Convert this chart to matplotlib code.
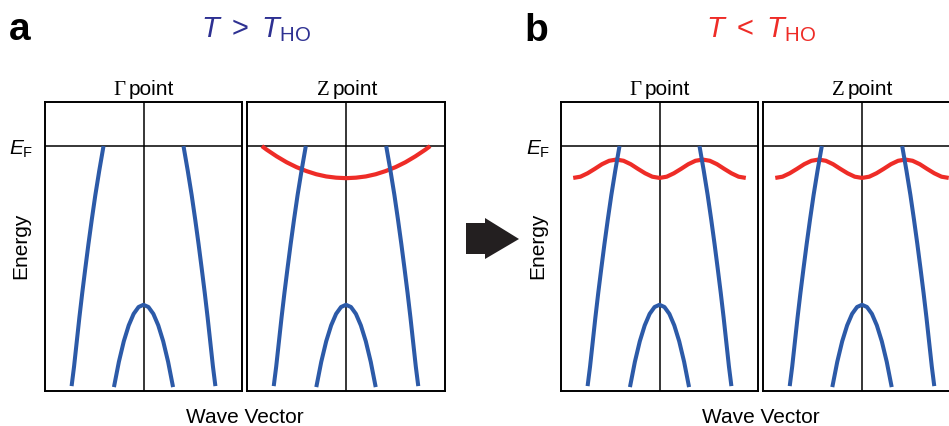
import matplotlib
matplotlib.use("Agg")
import matplotlib.pyplot as plt
from matplotlib.patches import Polygon

plt.rcParams['font.family'] = ['Liberation Sans', 'DejaVu Sans']
plt.rcParams['mathtext.fontset'] = 'custom'
plt.rcParams['mathtext.rm'] = 'Liberation Sans'
plt.rcParams['mathtext.it'] = 'Liberation Sans:italic'
plt.rcParams['mathtext.bf'] = 'Liberation Sans:bold'

W, H = 949, 426

# outer hole bands (right branch, left branch is mirrored), E_F = 0
band_E = [0.0, -0.1, -0.2, -0.3, -0.4, -0.5, -0.6, -0.7, -0.8, -0.9, -0.98]
band_k = [0.406, 0.449, 0.489, 0.525, 0.559, 0.591, 0.622, 0.651, 0.678, 0.705, 0.73]

# inner band with top below E_F
inner_k = [-0.30, -0.25, -0.20, -0.15, -0.10, -0.05, 0.0, 0.05, 0.10, 0.15, 0.20, 0.25, 0.30]
inner_E = [-0.984, -0.881, -0.797, -0.732, -0.685, -0.657, -0.648,
           -0.657, -0.685, -0.732, -0.797, -0.881, -0.984]

# Z point band above the transition
zband_k = [-0.85, -0.8, -0.7, -0.6, -0.5, -0.4, -0.3, -0.2, -0.1, 0.0,
           0.1, 0.2, 0.3, 0.4, 0.5, 0.6, 0.7, 0.8, 0.85]
zband_E = [0.0, -0.015, -0.042, -0.066, -0.086, -0.102, -0.115, -0.124, -0.129, -0.131,
           -0.129, -0.124, -0.115, -0.102, -0.086, -0.066, -0.042, -0.015, 0.0]

# folded band below the transition
wave_k = [-0.876, -0.803, -0.730, -0.657, -0.584, -0.511, -0.438, -0.365, -0.292, -0.219,
          -0.146, -0.073, 0.0, 0.073, 0.146, 0.219, 0.292, 0.365, 0.438, 0.511,
          0.584, 0.657, 0.730, 0.803, 0.876]
wave_E = [-0.130, -0.125, -0.111, -0.093, -0.074, -0.060, -0.055, -0.060, -0.074, -0.093,
          -0.111, -0.125, -0.130, -0.125, -0.111, -0.093, -0.074, -0.060, -0.055, -0.060,
          -0.074, -0.093, -0.111, -0.125, -0.130]

blue = '#2C5AA8'
red = '#EE2C27'
navy = '#2E3192'


def fx(x):
    return x / W


def fy(y):
    return 1 - y / H


def panel(x0, x1, red_k=None, red_E=None):
    ax = fig.add_axes([fx(x0), fy(391), (x1 - x0) / W, (391 - 102) / H])
    ax.set_xlim(-1, 1)
    ax.set_ylim(-1, 0.18)
    ax.set_xticks([])
    ax.set_yticks([])
    for s in ax.spines.values():
        s.set_linewidth(1.4)
    ax.axvline(0, color='black', lw=1.1, zorder=1)
    ax.axhline(0, color='black', lw=1.1, zorder=1)
    if red_k is not None:
        ax.plot(red_k, red_E, color=red, lw=3.0, zorder=2, solid_capstyle='butt')
    ax.plot(band_k, band_E, color=blue, lw=2.9, zorder=3, solid_capstyle='butt')
    ax.plot([-k for k in band_k], band_E, color=blue, lw=2.9, zorder=3, solid_capstyle='butt')
    ax.plot(inner_k, inner_E, color=blue, lw=2.9, zorder=3, solid_capstyle='butt')
    return ax


fig = plt.figure(figsize=(W / 100, H / 100), dpi=100)

panel(45, 242)
panel(247, 445, zband_k, zband_E)
panel(561, 758, wave_k, wave_E)
panel(763, 961, wave_k, wave_E)


def point_label(cx, letter):
    fig.text(fx(cx - 17), fy(95), letter, ha='right', va='baseline', fontsize=15,
             family='Liberation Serif')
    fig.text(fx(cx - 14), fy(95), 'point', ha='left', va='baseline', fontsize=15)


point_label(143, '\u0393')
point_label(347, 'Z')
point_label(659, '\u0393')
point_label(862, 'Z')

# panel letters and titles
fig.text(fx(9), fy(40), 'a', fontsize=28, fontweight='bold', ha='left', va='baseline')
fig.text(fx(524), fy(41), 'b', fontsize=28, fontweight='bold', ha='left', va='baseline')
fig.text(fx(256), fy(37), r'$T\ >\ T_{\mathrm{HO}}$', color=navy, fontsize=21,
         ha='center', va='baseline')
fig.text(fx(761), fy(37), r'$T\ <\ T_{\mathrm{HO}}$', color=red, fontsize=21,
         ha='center', va='baseline')

# axis labels
for ex, cx in [(33, 245), (550, 761)]:
    fig.text(fx(ex), fy(149), r'$E_{\mathrm{F}}$', fontsize=15, ha='right', va='center')
    fig.text(fx(ex - 12), fy(246), 'Energy', fontsize=15, rotation=90, ha='center', va='center')
    fig.text(fx(cx), fy(423), 'Wave Vector', fontsize=15, ha='center', va='baseline')

# arrow between the two states
arrow = [(466, 223), (485, 223), (485, 218), (519, 239), (485, 259), (485, 254), (466, 254)]
fig.patches.append(Polygon([(fx(x), fy(y)) for x, y in arrow], closed=True,
                           transform=fig.transFigure, facecolor='#231F20', edgecolor='none'))

fig.savefig('out.png', dpi=100)
